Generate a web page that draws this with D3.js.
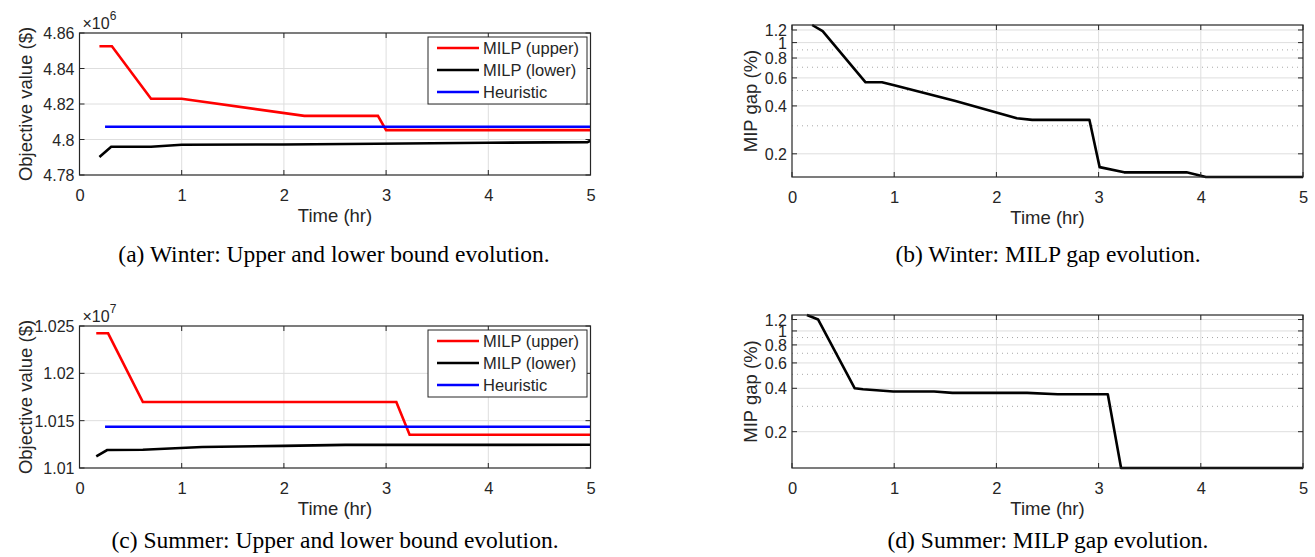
<!DOCTYPE html>
<html>
<head>
<meta charset="utf-8">
<script src="https://cdn.jsdelivr.net/npm/d3@7"></script>
<style>
body { margin: 0; background: #fff; }
text { font-family: "Liberation Sans", Arial, Helvetica, sans-serif; fill: #262626; }
.caption { font-family: "Liberation Serif", "Times New Roman", serif; fill: #000; }
</style>
</head>
<body>
<div id="vis"></div>
<script>
var w = 1315, h = 557;

// time axis (hr)
var timeTicks = [0, 1, 2, 3, 4, 5];

// (a) winter bounds, values in 1e6 $
var winterUpperT = [0.195, 0.317, 0.70, 1.00, 2.20, 2.92, 3.00, 5.00];
var winterUpperV = [4.8525, 4.8525, 4.823, 4.823, 4.8133, 4.8133, 4.8053, 4.8053];
var winterLowerT = [0.195, 0.31, 0.70, 1.00, 2.00, 2.90, 4.00, 4.97, 5.00];
var winterLowerV = [4.7901, 4.7959, 4.7959, 4.7970, 4.7972, 4.7976, 4.7982, 4.7985, 4.7993];
var winterHeurT = [0.25, 5.00];
var winterHeurV = [4.8072, 4.8072];
var winterTicks = [4.78, 4.80, 4.82, 4.84, 4.86];
var winterTickLabels = ["4.78", "4.8", "4.82", "4.84", "4.86"];

// (c) summer bounds, values in 1e7 $
var summerUpperT = [0.164, 0.28, 0.62, 3.10, 3.23, 5.00];
var summerUpperV = [1.02423, 1.02423, 1.01697, 1.01697, 1.01351, 1.01351];
var summerLowerT = [0.164, 0.27, 0.62, 1.20, 2.00, 2.60, 5.00];
var summerLowerV = [1.01123, 1.01190, 1.01192, 1.01222, 1.01234, 1.01244, 1.01245];
var summerHeurT = [0.25, 5.00];
var summerHeurV = [1.01436, 1.01436];
var summerTicks = [1.01, 1.015, 1.02, 1.025];
var summerTickLabels = ["1.01", "1.015", "1.02", "1.025"];

// (b) winter MIP gap (%)
var winterGapT = [0.197, 0.30, 0.72, 0.88, 1.00, 1.60, 2.20, 2.35, 2.91, 3.01, 3.25, 3.86, 4.05, 5.00];
var winterGapV = [1.29, 1.18, 0.563, 0.563, 0.54, 0.429, 0.335, 0.327, 0.327, 0.165, 0.153, 0.153, 0.143, 0.143];

// (d) summer MIP gap (%)
var summerGapT = [0.146, 0.256, 0.614, 0.695, 0.99, 1.39, 1.57, 2.30, 2.60, 3.09, 3.22, 5.00];
var summerGapV = [1.29, 1.20, 0.40, 0.394, 0.38, 0.38, 0.372, 0.372, 0.364, 0.364, 0.112, 0.112];

var gapTicks = [0.2, 0.4, 0.6, 0.8, 1, 1.2];
var gapTickLabels = ["0.2", "0.4", "0.6", "0.8", "1", "1.2"];
var gapMinor = [0.3, 0.5, 0.7, 0.9];

var legendNames = ["MILP (upper)", "MILP (lower)", "Heuristic"];
var legendColors = ["#ff0000", "#000000", "#0000ff"];

var captions = ["(a) Winter: Upper and lower bound evolution.",
                "(b) Winter: MILP gap evolution.",
                "(c) Summer: Upper and lower bound evolution.",
                "(d) Summer: MILP gap evolution."];

var svg = d3.select("#vis").append("svg")
    .attr("width", w)
    .attr("height", h);

svg.append("rect").attr("width", w).attr("height", h).attr("fill", "#fff");

function zip(t, v) {
    return t.map(function(d, i) { return [d, v[i]]; });
}

// light grid behind the data
function frame(g, x, y, box, yTicks) {
    g.selectAll("line.vg")
        .data(timeTicks.slice(1, -1))
        .enter().append("line")
        .attr("x1", x).attr("x2", x)
        .attr("y1", box.y0).attr("y2", box.y1)
        .attr("stroke", "#dedede").attr("stroke-width", 1);
    g.selectAll("line.hg")
        .data(yTicks)
        .enter().append("line")
        .attr("x1", box.x0).attr("x2", box.x1)
        .attr("y1", y).attr("y2", y)
        .attr("stroke", "#dedede").attr("stroke-width", 1);
}

function axes(g, x, y, box, yTicks, yLabels, yLabel, labelX) {
    g.append("rect")
        .attr("x", box.x0).attr("y", box.y0)
        .attr("width", box.x1 - box.x0).attr("height", box.y1 - box.y0)
        .attr("fill", "none").attr("stroke", "#262626").attr("stroke-width", 1.2);

    var xa = d3.axisBottom(x).tickValues(timeTicks).tickSize(0).tickPadding(14).tickFormat(d3.format("d"));
    var xg = g.append("g").attr("transform", "translate(0," + box.y1 + ")").call(xa);
    xg.select(".domain").remove();
    xg.selectAll("text").attr("font-size", 16.5).attr("fill", "#262626");

    var ya = d3.axisLeft(y).tickValues(yTicks).tickSize(0).tickPadding(5)
        .tickFormat(function(d, i) { return yLabels[i]; });
    var yg = g.append("g").attr("transform", "translate(" + box.x0 + ",0)").call(ya);
    yg.select(".domain").remove();
    yg.selectAll("text").attr("font-size", 16).attr("fill", "#262626").attr("dy", "0.35em");

    // inward tick marks
    timeTicks.forEach(function(t) {
        g.append("line").attr("x1", x(t)).attr("x2", x(t)).attr("y1", box.y1).attr("y2", box.y1 - 5)
            .attr("stroke", "#262626");
        g.append("line").attr("x1", x(t)).attr("x2", x(t)).attr("y1", box.y0).attr("y2", box.y0 + 5)
            .attr("stroke", "#262626");
    });
    yTicks.forEach(function(v) {
        g.append("line").attr("x1", box.x0).attr("x2", box.x0 + 5).attr("y1", y(v)).attr("y2", y(v))
            .attr("stroke", "#262626");
        g.append("line").attr("x1", box.x1).attr("x2", box.x1 - 5).attr("y1", y(v)).attr("y2", y(v))
            .attr("stroke", "#262626");
    });

    g.append("text")
        .attr("x", (box.x0 + box.x1) / 2).attr("y", box.y1 + 47)
        .attr("text-anchor", "middle").attr("font-size", 18.5)
        .text("Time (hr)");
    g.append("text")
        .attr("transform", "translate(" + labelX + "," + ((box.y0 + box.y1) / 2) + ") rotate(-90)")
        .attr("text-anchor", "middle").attr("font-size", 18.5)
        .text(yLabel);
}

function boundsPanel(box, yTicks, yLabels, exponent, upper, lower, heur) {
    var g = svg.append("g");
    var x = d3.scaleLinear().domain([0, 5]).range([box.x0, box.x1]);
    var y = d3.scaleLinear().domain([yTicks[0], yTicks[yTicks.length - 1]]).range([box.y1, box.y0]);
    frame(g, x, y, box, yTicks.slice(1, -1));

    var line = d3.line().x(function(d) { return x(d[0]); }).y(function(d) { return y(d[1]); });
    [upper, lower, heur].forEach(function(s, i) {
        g.append("path").datum(s).attr("d", line)
            .attr("fill", "none").attr("stroke", legendColors[i]).attr("stroke-width", 2.6);
    });

    axes(g, x, y, box, yTicks, yLabels, "Objective value ($)", 32);

    // x10^n multiplier
    var m = g.append("text").attr("x", box.x0 + 3).attr("y", box.y0 - 4).attr("font-size", 16);
    m.append("tspan").text("\u00d710");
    m.append("tspan").attr("dy", -9).attr("font-size", 12).text(exponent);

    // legend
    var lx = 428, ly = box.y0 + 4, lw = 159, lh = 67;
    g.append("rect").attr("x", lx).attr("y", ly).attr("width", lw).attr("height", lh)
        .attr("fill", "#fff").attr("stroke", "#262626").attr("stroke-width", 1);
    legendNames.forEach(function(n, i) {
        var yy = ly + 11 + i * 22;
        g.append("line").attr("x1", lx + 9).attr("x2", lx + 51).attr("y1", yy).attr("y2", yy)
            .attr("stroke", legendColors[i]).attr("stroke-width", 2.6);
        g.append("text").attr("x", lx + 55).attr("y", yy).attr("dy", "0.35em")
            .attr("font-size", 16.5).text(n);
    });
}

function gapPanel(box, yDomain, t, v) {
    var g = svg.append("g");
    var x = d3.scaleLinear().domain([0, 5]).range([box.x0, box.x1]);
    var y = d3.scaleLog().domain(yDomain).range([box.y1, box.y0]);
    frame(g, x, y, box, gapTicks);
    g.selectAll("line.minor")
        .data(gapMinor)
        .enter().append("line")
        .attr("x1", box.x0).attr("x2", box.x1)
        .attr("y1", function(d) { return y(d); }).attr("y2", function(d) { return y(d); })
        .attr("stroke", "#a8a8a8").attr("stroke-width", 1).attr("stroke-dasharray", "1,4");

    var line = d3.line().x(function(d) { return x(d[0]); }).y(function(d) { return y(d[1]); });
    g.append("path").datum(zip(t, v)).attr("d", line)
        .attr("fill", "none").attr("stroke", "#000").attr("stroke-width", 2.6)
        .attr("stroke-linejoin", "round");

    axes(g, x, y, box, gapTicks, gapTickLabels, "MIP gap (%)", 757);
}

boundsPanel({x0: 79.5, x1: 590.5, y0: 33, y1: 175}, winterTicks, winterTickLabels, "6",
    zip(winterUpperT, winterUpperV), zip(winterLowerT, winterLowerV), zip(winterHeurT, winterHeurV));
gapPanel({x0: 792, x1: 1303, y0: 25, y1: 177}, [0.143, 1.29], winterGapT, winterGapV);
boundsPanel({x0: 79.5, x1: 590.5, y0: 326, y1: 468}, summerTicks, summerTickLabels, "7",
    zip(summerUpperT, summerUpperV), zip(summerLowerT, summerLowerV), zip(summerHeurT, summerHeurV));
gapPanel({x0: 792, x1: 1303, y0: 315, y1: 468}, [0.112, 1.29], summerGapT, summerGapV);

// captions
var capPos = [[334, 262], [1048, 262], [335, 548], [1048, 548]];
captions.forEach(function(c, i) {
    svg.append("text").attr("class", "caption")
        .attr("x", capPos[i][0]).attr("y", capPos[i][1])
        .attr("text-anchor", "middle").attr("font-size", 23.5)
        .text(c);
});
</script>
</body>
</html>
